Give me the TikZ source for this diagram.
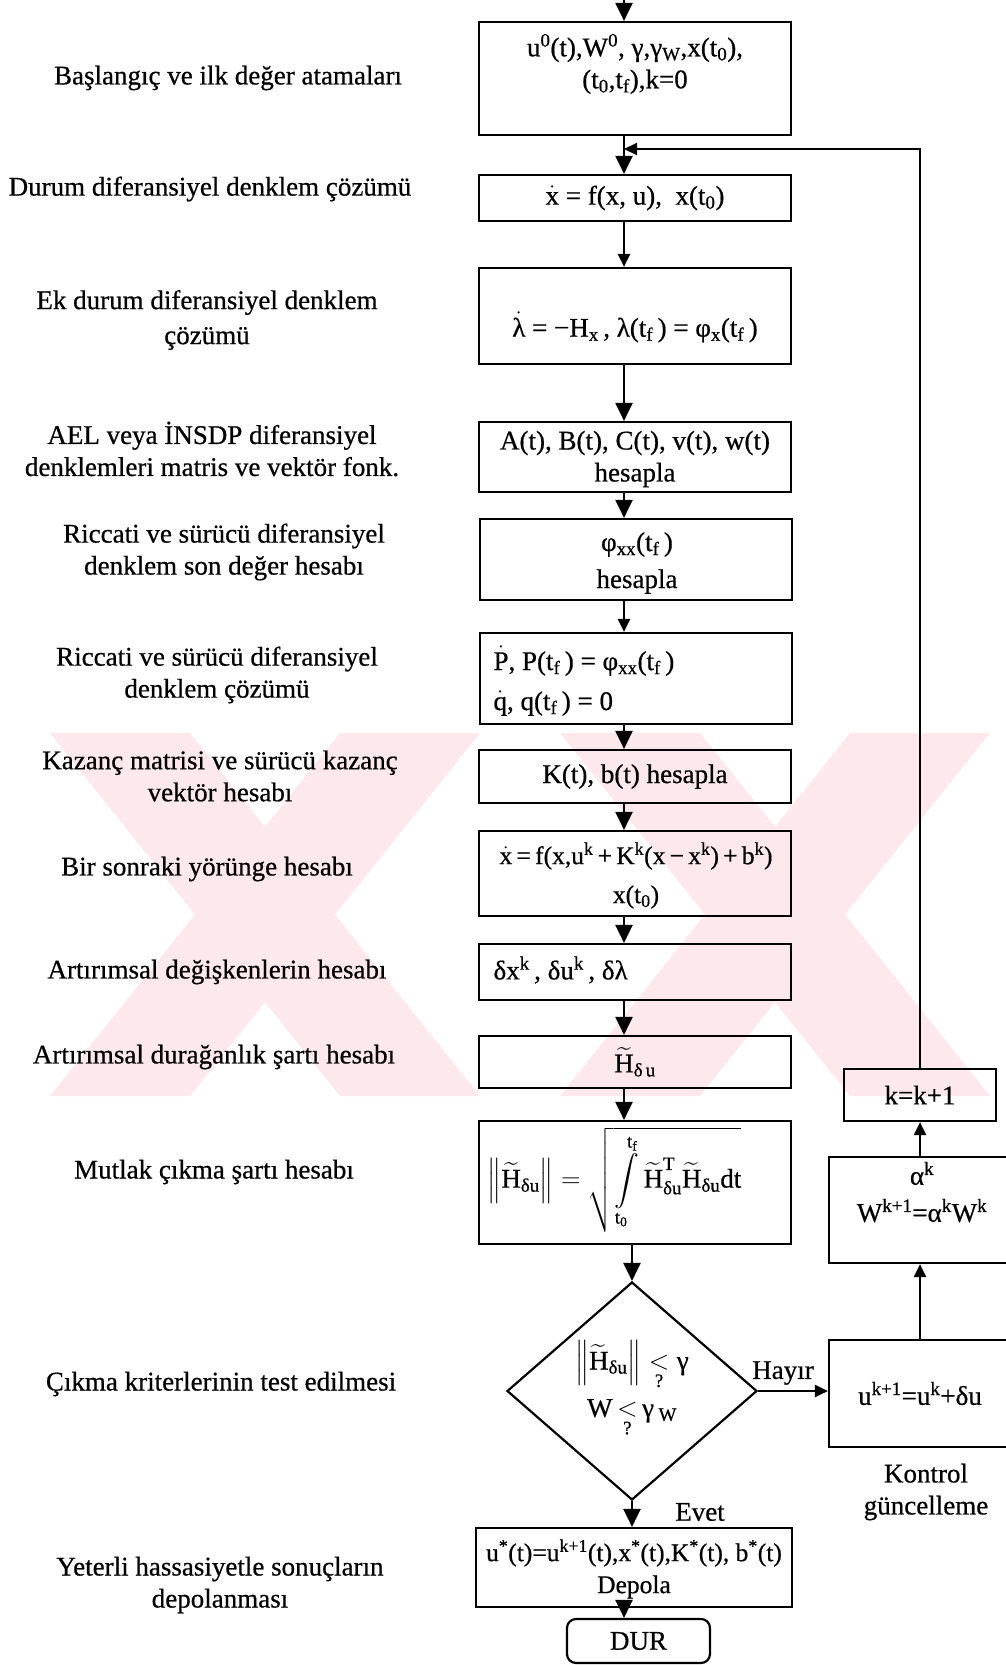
\RequirePackage{fix-cm}
\documentclass[tikz,border=0pt]{standalone}
\usepackage{amsmath}
\usepackage[no-math]{fontspec}
\setmainfont{Liberation Serif}[FakeBold=0.6]
\usetikzlibrary{arrows.meta,shapes.geometric}
\definecolor{wm}{RGB}{253,232,236}
\newcommand\tH{\ensuremath{\widetilde{\text{H}}}}
\newcommand\sub[1]{\textsubscript{#1}}
\newcommand\sps[1]{\textsuperscript{#1}}
\begin{document}
\begin{tikzpicture}[x=1pt,y=-1pt,
  every node/.style={font=\fontsize{27}{32}\selectfont},
  box/.style={draw,line width=2.2pt,inner sep=0pt},
  arr/.style={line width=2.2pt,-{Triangle[length=18pt,width=17pt]}},
  arrs/.style={line width=2.2pt,-{Triangle[length=13pt,width=12pt]}}]
\clip (0,0) rectangle (1006,1665);
% watermark
\begin{scope}
\clip (0,733) rectangle (1006,1096);
\fill[wm] (50,733) -- (190,733) -- (480,1096) -- (340,1096) -- cycle;
\fill[wm] (340,733) -- (480,733) -- (190,1096) -- (50,1096) -- cycle;
\fill[wm] (560,733) -- (700,733) -- (990,1096) -- (850,1096) -- cycle;
\fill[wm] (850,733) -- (990,733) -- (700,1096) -- (560,1096) -- cycle;
\end{scope}
% left labels
\node[align=center] (l1) at (228,78) {Başlangıç ve ilk değer atamaları};
\node[align=center] (l2) at (210,189) {Durum diferansiyel denklem çözümü};
\node[align=center] (l3) at (207,320) {Ek durum diferansiyel denklem\\[3pt]çözümü};
\node[align=center] (l4) at (212,449) {AEL veya İNSDP diferansiyel\\denklemleri matris ve vektör fonk.};
\node[align=center] (l5) at (224,552) {Riccati ve sürücü diferansiyel\\denklem son değer hesabı};
\node[align=center] (l6) at (217,675) {Riccati ve sürücü diferansiyel\\denklem çözümü};
\node[align=center] (l7) at (220,776) {Kazanç matrisi ve sürücü kazanç\\vektör hesabı};
\node[align=center] (l8) at (207,869) {Bir sonraki yörünge hesabı};
\node[align=center] (l9) at (217,972) {Artırımsal değişkenlerin hesabı};
\node[align=center] (l10) at (214,1057) {Artırımsal durağanlık şartı hesabı};
\node[align=center] (l11) at (214,1172) {Mutlak çıkma şartı hesabı};
\node[align=center] (l12) at (221,1384) {Çıkma kriterlerinin test edilmesi};
\node[align=center] (l13) at (220,1585) {Yeterli hassasiyetle sonuçların\\depolanması};
% main column boxes
\node[box,minimum width=312pt,minimum height=113pt] (b1) at (635,78.5) {};
\node[align=center] (t1) at (635,64) {u\sps{0}(t),W\sps{0}, γ,γ\sub{W},x(t\sub{0}),\\(t\sub{0},t\sub{f}),k=0};
\node[box,minimum width=312pt,minimum height=46pt] (b2) at (635,198) {$\dot{\text{x}}$ = f(x, u),\ \ x(t\sub{0})};
\node[box,minimum width=312pt,minimum height=96pt] (b3) at (635,316) {};
\node (t3) at (635,327) {$\dot{\text{λ}}$ = −H\sub{x}\,, λ(t\sub{f}\,) = φ\sub{x}(t\sub{f}\,)};
\node[box,minimum width=312pt,minimum height=70pt] (b4) at (635,457) {};
\node[align=center] (t4) at (635,459) {A(t), B(t), C(t), v(t), w(t)\\hesapla};
\node[box,minimum width=312pt,minimum height=81pt] (b5) at (636,559.5) {};
\node[align=center] (t5) at (637,563) {φ\sub{xx}(t\sub{f}\,)\\[5pt]hesapla};
\node[box,minimum width=312pt,minimum height=91pt] (b6) at (636,678.5) {};
\node[align=left,anchor=west] (t6) at (490,681) {$\dot{\text{P}}$, P(t\sub{f}\,) = φ\sub{xx}(t\sub{f}\,)\\[8pt]$\dot{\text{q}}$, q(t\sub{f}\,) = 0};
\node[box,minimum width=312pt,minimum height=53pt] (b7) at (635,776.5) {K(t), b(t) hesapla};
\node[box,minimum width=312pt,minimum height=85pt] (b8) at (635,873.5) {};
\node[align=center,font=\fontsize{25.5}{32}\selectfont] (t8) at (636,875.5) {$\dot{\text{x}}$\,=\,f(x,u\sps{k}\,+\,K\sps{k}(x\,−\,x\sps{k})\,+\,b\sps{k})\\[7pt]x(t\sub{0})};
\node[box,minimum width=312pt,minimum height=56pt] (b9) at (635,972) {};
\node[anchor=west] (t9) at (490,970) {δx\sps{k}\,,\ δu\sps{k}\,,\ δλ};
\node[box,minimum width=312pt,minimum height=52pt] (b10) at (635,1062) {\tH\sub{δ\,u}};
\node[box,minimum width=312pt,minimum height=123pt] (b11) at (635,1182.5) {};
\node[anchor=west] (t11) at (484,1180) {$\left\|\tH_{\text{δu}}\right\| = \sqrt{\displaystyle\int\limits_{\text{t}_{\text{0}}}^{\text{t}_{\text{f}}}\tH^{\text{T}}_{\text{δu}}\tH_{\text{δu}}\text{dt}}$};
\node[box,diamond,minimum width=250pt,minimum height=218pt] (d) at (632,1391) {};
\node (td1) at (632,1365) {$\left\|\tH_{\text{δu}}\right\|\underset{\text{?}}{<}\text{γ}$};
\node (td2) at (632,1418) {W\,$\underset{\text{?}}{<}$\,γ\,\sub{W}};
\node[box,minimum width=316pt,minimum height=79pt] (b13) at (634,1567.5) {};
\node[align=center,font=\fontsize{25.5}{32}\selectfont] (t13) at (634,1569) {u\sps{*}(t)=u\sps{k+1}(t),x\sps{*}(t),K\sps{*}(t), b\sps{*}(t)\\Depola};
\node[box,rounded corners=9pt,minimum width=143pt,minimum height=44pt] (dur) at (638.5,1641) {DUR};
% right column
\node[box,minimum width=152pt,minimum height=52pt] (k) at (920,1095) {k=k+1};
\node[box,minimum width=182pt,minimum height=106pt] (al) at (920,1210) {};
\node[align=center] (tal) at (922,1192) {α\sps{k}\\[5pt]W\sps{k+1}=α\sps{k}W\sps{k}};
\node[box,minimum width=182pt,minimum height=107pt] (u) at (920,1393.5) {u\sps{k+1}=u\sps{k}+δu};
\node[align=center] (kg) at (926,1492) {Kontrol\\güncelleme};
\node (hay) at (783,1373) {Hayır};
\node (evet) at (700,1512) {Evet};
% connectors
\coordinate (top) at (624,0);
\coordinate (fb) at (624,149);
\draw[arr] (top) -- (top |- b1.north);
\draw[arr] (top |- b1.south) -- (top |- b2.north);
\draw[arrs] (top |- b2.south) -- (top |- b3.north);
\draw[arr] (top |- b3.south) -- (top |- b4.north);
\draw[arr] (top |- b4.south) -- (top |- b5.north);
\draw[arrs] (top |- b5.south) -- (top |- b6.north);
\draw[arr] (top |- b6.south) -- (top |- b7.north);
\draw[arr] (top |- b7.south) -- (top |- b8.north);
\draw[arr] (top |- b8.south) -- (top |- b9.north);
\draw[arr] (top |- b9.south) -- (top |- b10.north);
\draw[arr] (top |- b10.south) -- (top |- b11.north);
\draw[arr] (d.north |- b11.south) -- (d.north);
\draw[arr] (d.south) -- (d.south |- b13.north);
\draw[arr] (top |- b13.south) -- (top |- dur.north);
\draw[arrs] (d.east) -- (d.east -| u.west);
\draw[arrs] (u.north) -- (al.south);
\draw[arrs] (al.north) -- (k.south);
\draw[arrs] (k.north) -- (k.north |- fb) -- (fb);
\end{tikzpicture}
\end{document}
